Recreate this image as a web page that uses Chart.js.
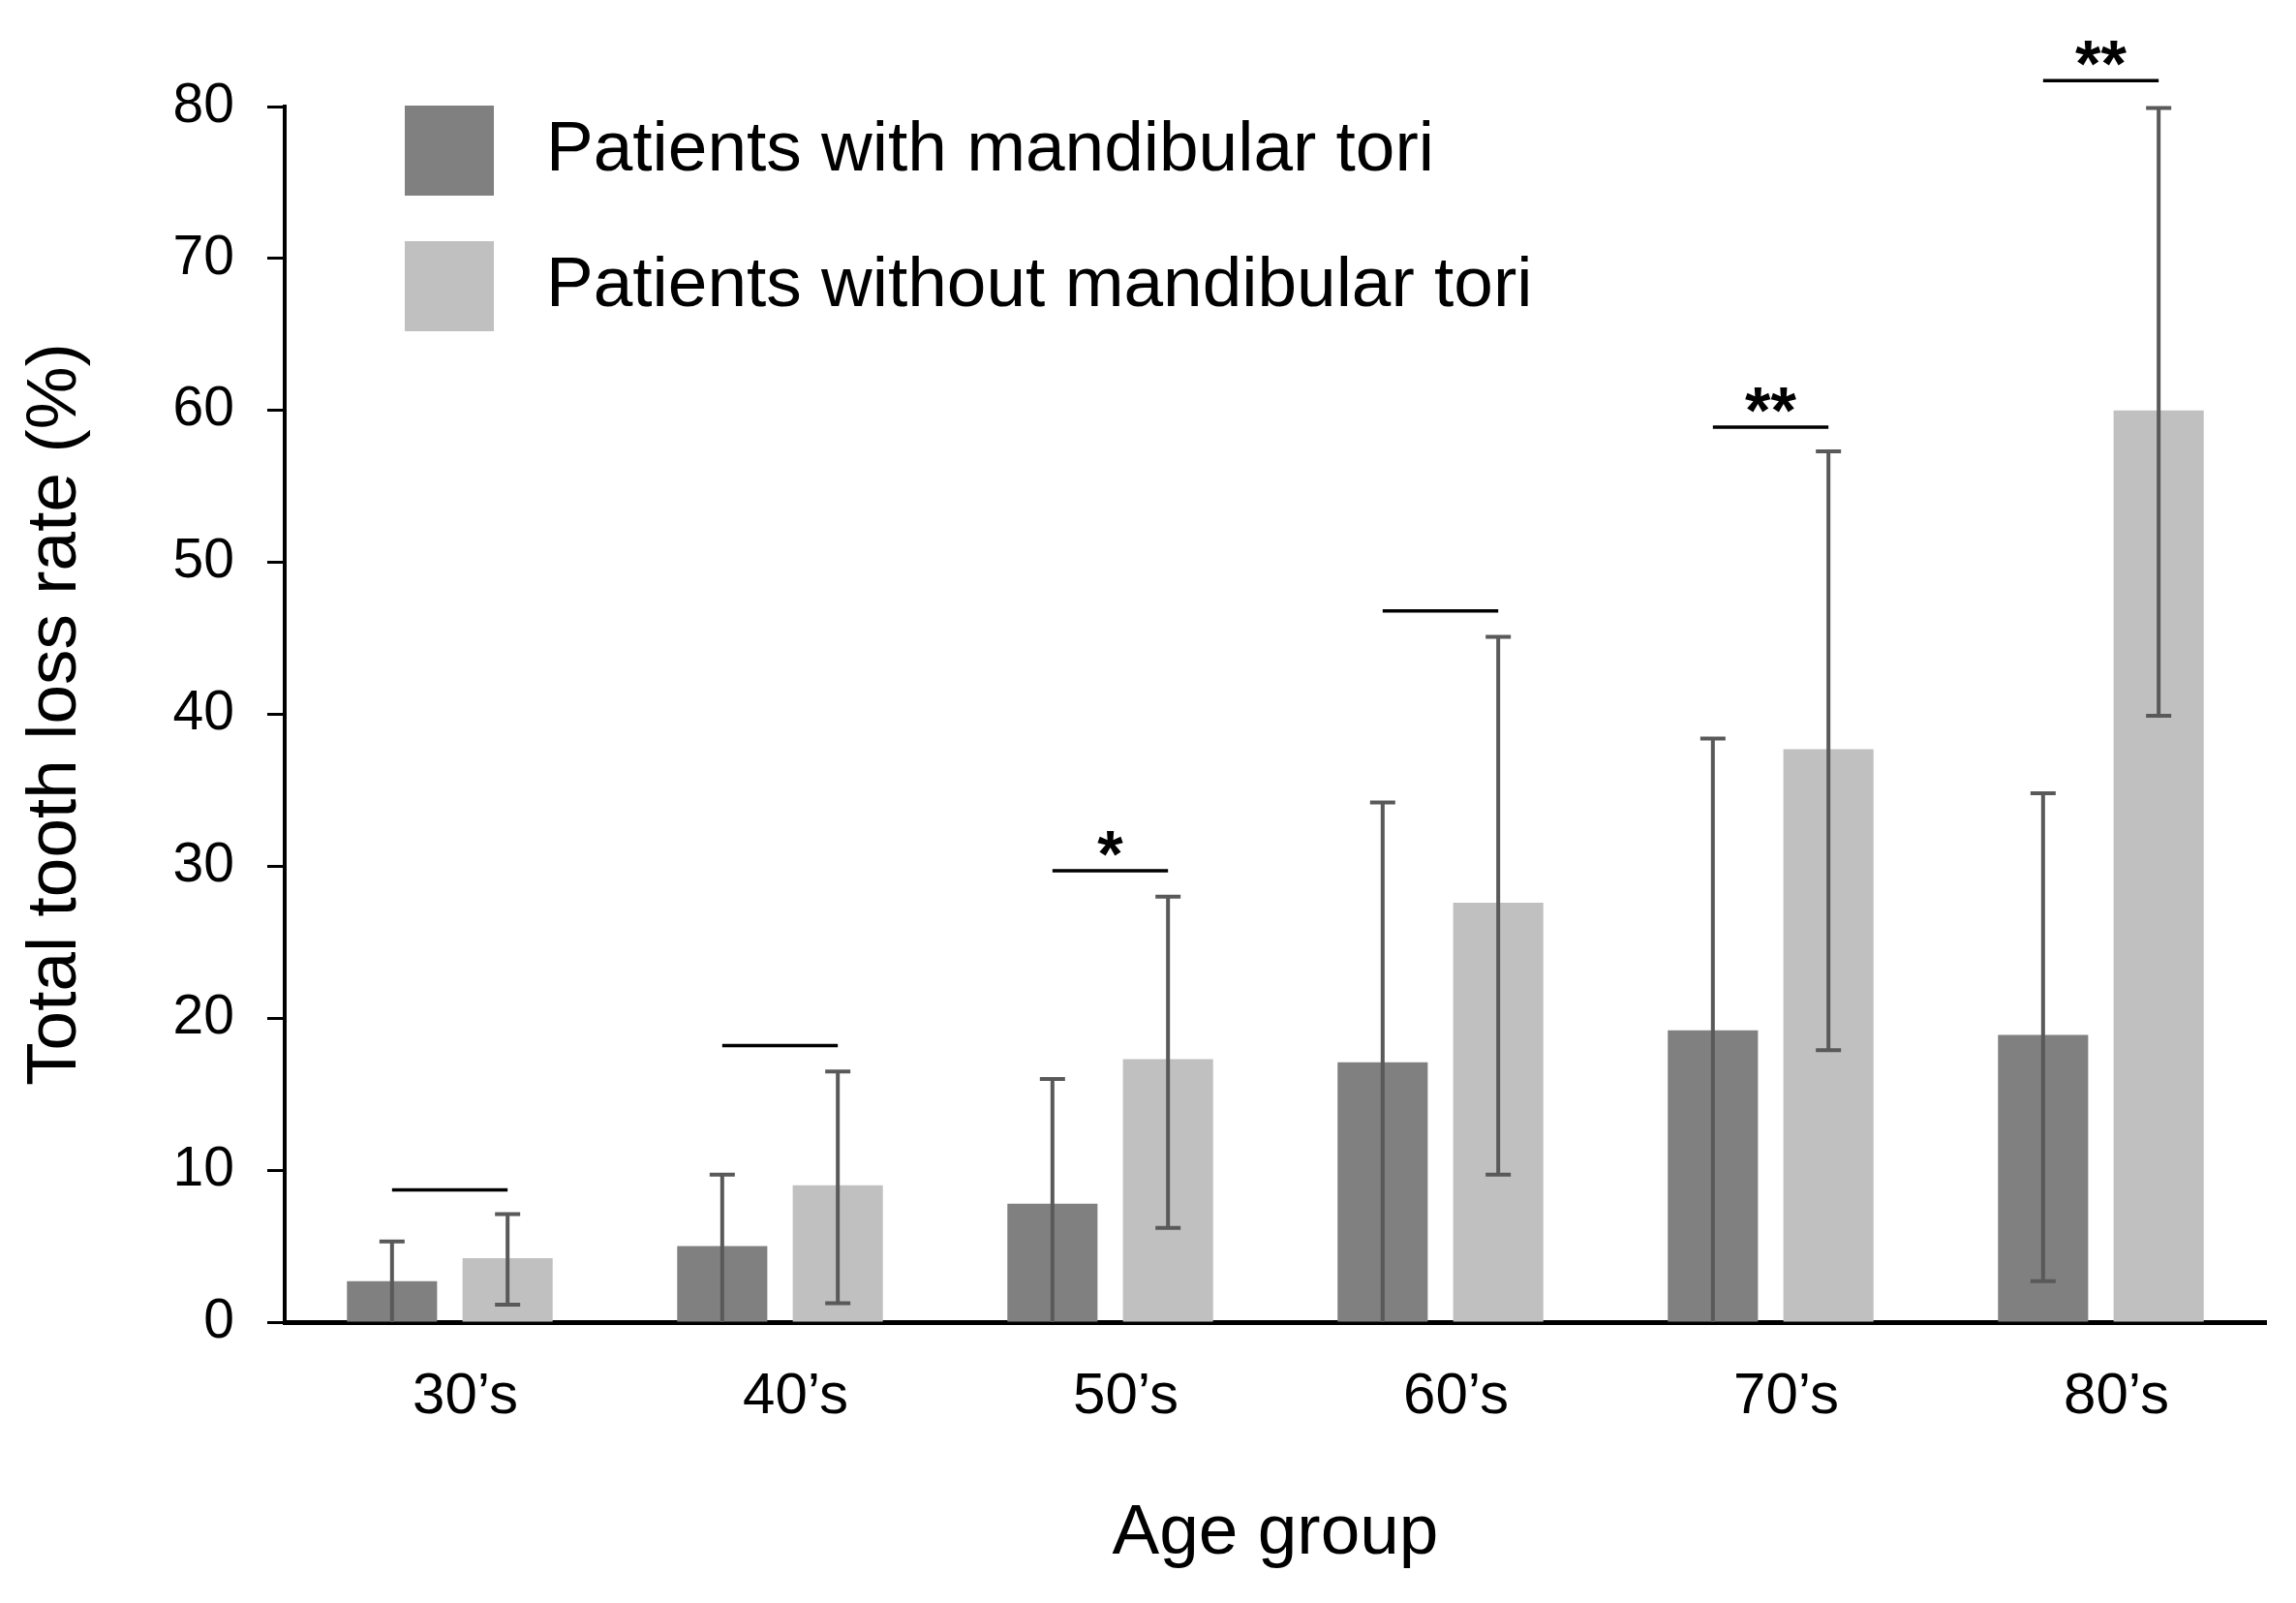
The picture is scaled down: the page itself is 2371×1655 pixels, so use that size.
<!DOCTYPE html>
<html>
<head>
<meta charset="utf-8">
<script src="https://cdn.jsdelivr.net/npm/chart.js@4"></script>
<style>
  body { margin: 0; background: #fff; }
  canvas { display: block; }
</style>
</head>
<body>
<canvas id="toriChart" width="2371" height="1655"></canvas>
<script>
const ageGroups = ['30’s', '40’s', '50’s', '60’s', '70’s', '80’s'];
const seriesNames = ['Patients with mandibular tori', 'Patients without mandibular tori'];

const withTori = [2.7, 5.0, 7.8, 17.1, 19.2, 18.9];
const withToriUpper = [5.3, 9.7, 16.0, 34.2, 38.4, 34.8];
const withToriLower = [0, 0, 0, 0, 0, 2.7];

const withoutTori = [4.2, 9.0, 17.3, 27.6, 37.7, 60.0];
const withoutToriUpper = [7.1, 16.5, 28.0, 45.1, 57.3, 79.9];
const withoutToriLower = [1.15, 1.25, 6.2, 9.7, 17.9, 39.9];

// significance bracket heights and marks
const sigLevel = [8.7, 18.2, 29.7, 46.8, 58.9, 81.7];
const sigMarks = ['', '', '*', '', '**', '**'];

const yTicks = [0, 10, 20, 30, 40, 50, 60, 70, 80];

const fontFamily = '"Liberation Sans", Arial, sans-serif';
const darkGrey = '#808080';
const lightGrey = '#c0c0c0';

const errorBars = {
    id: 'errorBars',
    afterDatasetsDraw(chart) {
        const ctx = chart.ctx;
        const y = chart.scales.y;
        const ranges = [[withToriLower, withToriUpper], [withoutToriLower, withoutToriUpper]];
        ctx.save();
        ctx.strokeStyle = '#595959';
        ctx.lineWidth = 4;
        ranges.forEach(([lo, hi], d) => {
            chart.getDatasetMeta(d).data.forEach((bar, i) => {
                const top = y.getPixelForValue(hi[i]);
                const bottom = y.getPixelForValue(lo[i]);
                ctx.beginPath();
                ctx.moveTo(bar.x, top);
                ctx.lineTo(bar.x, bottom);
                ctx.moveTo(bar.x - 13, top);
                ctx.lineTo(bar.x + 13, top);
                if (lo[i] > 0) {
                    ctx.moveTo(bar.x - 13, bottom);
                    ctx.lineTo(bar.x + 13, bottom);
                }
                ctx.stroke();
            });
        });

        // significance brackets
        const darkBars = chart.getDatasetMeta(0).data;
        const lightBars = chart.getDatasetMeta(1).data;
        ctx.strokeStyle = '#000';
        ctx.fillStyle = '#000';
        ctx.lineWidth = 3.5;
        ctx.font = 'bold 68px ' + fontFamily;
        ctx.textAlign = 'center';
        ctx.textBaseline = 'alphabetic';
        sigLevel.forEach((level, i) => {
            const py = y.getPixelForValue(level);
            ctx.beginPath();
            ctx.moveTo(darkBars[i].x, py);
            ctx.lineTo(lightBars[i].x, py);
            ctx.stroke();
            if (sigMarks[i]) {
                ctx.fillText(sigMarks[i], (darkBars[i].x + lightBars[i].x) / 2, py + 6);
            }
        });
        ctx.restore();
    }
};

const boxLegend = {
    id: 'boxLegend',
    afterDraw(chart) {
        const ctx = chart.ctx;
        ctx.save();
        ctx.font = '73px ' + fontFamily;
        ctx.textAlign = 'left';
        ctx.textBaseline = 'middle';
        chart.data.datasets.forEach((ds, i) => {
            const top = 109 + i * 140;
            ctx.fillStyle = ds.backgroundColor;
            ctx.fillRect(418, top, 92, 93);
            ctx.fillStyle = '#000';
            ctx.fillText(ds.label, 564, top + 47);
        });
        ctx.restore();
    }
};

const ctx = document.getElementById('toriChart').getContext('2d');
const toriChart = new Chart(ctx, {
    type: 'bar',
    data: {
        labels: ageGroups,
        datasets: [{
            label: seriesNames[0],
            data: withTori,
            backgroundColor: darkGrey,
            borderWidth: 0
        }, {
            label: seriesNames[1],
            data: withoutTori,
            backgroundColor: lightGrey,
            borderWidth: 0
        }]
    },
    options: {
        responsive: false,
        devicePixelRatio: 1,
        animation: false,
        categoryPercentage: 0.70,
        barPercentage: 0.78,
        layout: {
            padding: { left: 10, right: 31, top: 110, bottom: 23 }
        },
        scales: {
            x: {
                grid: { display: false, drawTicks: false },
                border: { display: true, color: '#000', width: 5 },
                ticks: {
                    color: '#000',
                    padding: 41,
                    labelOffset: 16,
                    font: { family: fontFamily, size: 60 }
                },
                title: {
                    display: true,
                    text: 'Age group',
                    color: '#000',
                    padding: { top: 0, bottom: 4 },
                    font: { family: fontFamily, size: 73 }
                },
                afterFit(scale) { scale.height = 267; }
            },
            y: {
                min: 0,
                max: 80,
                afterBuildTicks(scale) { scale.ticks = yTicks.map(v => ({ value: v })); },
                grid: {
                    drawOnChartArea: false,
                    drawTicks: true,
                    tickLength: 18,
                    tickWidth: 3,
                    tickColor: '#000'
                },
                border: { display: true, color: '#000', width: 4 },
                ticks: {
                    color: '#000',
                    padding: 34,
                    font: { family: fontFamily, size: 57 }
                },
                title: {
                    display: true,
                    text: 'Total tooth loss rate (%)',
                    color: '#000',
                    padding: { top: 4, bottom: 0 },
                    font: { family: fontFamily, size: 73 }
                },
                afterFit(scale) { scale.width = 284; }
            }
        },
        plugins: {
            legend: { display: false },
            tooltip: { enabled: false }
        }
    },
    plugins: [errorBars, boxLegend]
});
</script>
</body>
</html>
